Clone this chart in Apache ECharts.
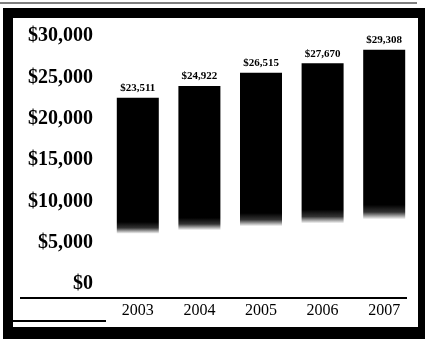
<!DOCTYPE html>
<html>
<head>
<meta charset="utf-8">
<script src="https://cdn.jsdelivr.net/npm/echarts@6/dist/echarts.min.js"></script>
<style>
  html, body { margin: 0; padding: 0; background: #fff; }
  #frame {
    position: absolute; left: 3px; top: 8px; width: 405px; height: 309px;
    border-style: solid; border-color: #000;
    border-width: 10px 7px 12px 10px;
  }
  #chart { position: absolute; left: 0; top: 0; width: 425px; height: 339px; }
</style>
</head>
<body>
<div id="frame"></div>
<div id="chart"></div>
<script>
const years = ["2003", "2004", "2005", "2006", "2007"];
const costs = [23511, 24922, 26515, 27670, 29308];

const money = (v) => "$" + v.toLocaleString("en-US");

// scanned bars fade out toward the bottom
const barFill = new echarts.graphic.LinearGradient(0, 0, 0, 1, [
  { offset: 0, color: "#000" },
  { offset: 0.64, color: "#000" },
  { offset: 0.67, color: "#333" },
  { offset: 0.7, color: "#fff" },
  { offset: 1, color: "#fff" },
]);

const chart = echarts.init(document.getElementById("chart"));

chart.setOption({
  animation: false,
  backgroundColor: "transparent",
  grid: { left: 107, right: 10, top: 44, bottom: 47, containLabel: false },
  xAxis: {
    type: "category",
    data: years,
    offset: 6,
    axisLine: { show: false },
    axisTick: { show: false },
    axisLabel: {
      color: "#000",
      fontFamily: "Liberation Serif",
      fontSize: 16,
      margin: 5,
    },
  },
  yAxis: {
    type: "value",
    min: 0,
    max: 30000,
    interval: 5000,
    splitLine: { show: false },
    axisLine: { show: false },
    axisTick: { show: false },
    axisLabel: {
      color: "#000",
      fontFamily: "Liberation Serif",
      fontWeight: "bold",
      fontSize: 20,
      margin: 14,
      verticalAlign: "bottom",
      lineHeight: 16,
      formatter: money,
    },
  },
  series: [
    {
      type: "bar",
      data: costs,
      barWidth: 42,
      itemStyle: { color: barFill },
      label: {
        show: true,
        position: "top",
        distance: 4,
        color: "#000",
        fontFamily: "Liberation Serif",
        fontWeight: "bold",
        fontSize: 11,
        formatter: (p) => money(p.value),
      },
    },
  ],
  graphic: [
    { type: "line", shape: { x1: 0, y1: 3, x2: 417, y2: 3 }, style: { stroke: "#000", lineWidth: 1 } },
    { type: "line", shape: { x1: 20, y1: 298, x2: 407, y2: 298 }, style: { stroke: "#000", lineWidth: 2 } },
    { type: "line", shape: { x1: 13, y1: 321, x2: 106, y2: 321 }, style: { stroke: "#000", lineWidth: 2 } },
  ],
});

window.addEventListener("resize", () => chart.resize());
</script>
</body>
</html>
